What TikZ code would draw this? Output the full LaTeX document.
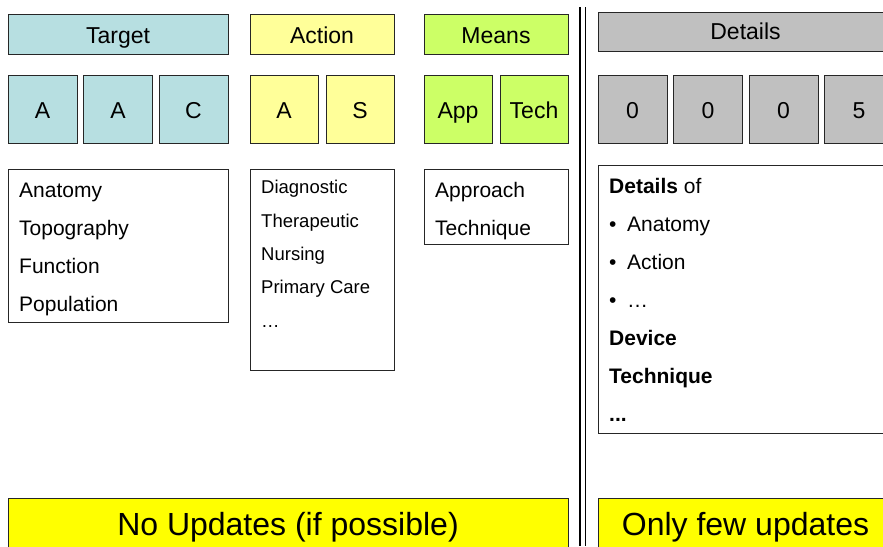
\documentclass[tikz,border=0pt]{standalone}
\usepackage{fontspec}
\setmainfont{Liberation Sans}
\definecolor{tgt}{HTML}{B7DFE1}
\definecolor{act}{HTML}{FFFF99}
\definecolor{mns}{HTML}{CCFF66}
\definecolor{det}{HTML}{C0C0C0}
\definecolor{upd}{HTML}{FFFF00}
\definecolor{edge}{HTML}{262626}
\tikzset{
  bx/.style={draw=edge, line width=1pt, inner sep=0pt, outer sep=0pt, anchor=north west, text=black},
  hd/.style={bx, minimum height=40pt, text height=18pt, text depth=0pt, font=\fontsize{23}{27}\selectfont},
  sq/.style={bx, minimum width=69pt, minimum height=68pt, text height=18pt, text depth=0pt, font=\fontsize{23}{27}\selectfont},
  lb/.style={bx, fill=white},
  big/.style={anchor=base west, inner sep=0pt, font=\fontsize{21}{25}\selectfont},
  sml/.style={anchor=base west, inner sep=0pt, font=\fontsize{18.5}{22}\selectfont},
  bot/.style={bx, fill=upd, minimum height=60pt, text height=14pt, text depth=0pt, font=\fontsize{32}{36}\selectfont},
  sep/.style={line width=1.7pt, draw=black}
}
\begin{document}
\begin{tikzpicture}[x=1pt, y=-1pt]
\useasboundingbox (0,0) rectangle (883,546);
\clip (0,0) rectangle (883,546);
\fill[white] (0,0) rectangle (883,546);

% headers
\node[hd, fill=tgt, minimum width=220pt] (target) at (8,14) {Target};
\node[hd, fill=act, minimum width=144pt] (action) at (250,14) {Action};
\node[hd, fill=mns, minimum width=144pt] (means) at (424,14) {Means};
\node[hd, fill=det, minimum width=295pt, minimum height=39pt, text height=15pt] (details) at (598,12) {Details};

% code boxes
\node[sq, fill=tgt] (t1) at (8,75) {A};
\node[sq, fill=tgt] (t2) at (83.5,75) {A};
\node[sq, fill=tgt] (t3) at (159,75) {C};
\node[sq, fill=act, minimum width=68pt] (a1) at (250,75) {A};
\node[sq, fill=act, minimum width=68pt] (a2) at (326,75) {S};
\node[sq, fill=mns, minimum width=68pt] (m1) at (424,75) {App};
\node[sq, fill=mns, minimum width=68pt] (m2) at (500,75) {Tech};
\node[sq, fill=det] (d1) at (598,75) {0};
\node[sq, fill=det] (d2) at (673.5,75) {0};
\node[sq, fill=det] (d3) at (749,75) {0};
\node[sq, fill=det] (d4) at (824.5,75) {5};

% list boxes
\node[lb, minimum width=220pt, minimum height=153pt] (tlist) at (8,169) {};
\node[lb, minimum width=144pt, minimum height=201pt] (alist) at (250,169) {};
\node[lb, minimum width=144pt, minimum height=75pt] (mlist) at (424,169) {};
\node[lb, minimum width=295pt, minimum height=268pt] (dlist) at (598,165) {};

% target list
\node[big] (tl1) at (19,197) {Anatomy};
\node[big] (tl2) at (19,235) {Topography};
\node[big] (tl3) at (19,273) {Function};
\node[big] (tl4) at (19,311) {Population};

% action list
\node[sml] (al1) at (261,193) {Diagnostic};
\node[sml] (al2) at (261,227) {Therapeutic};
\node[sml] (al3) at (261,260) {Nursing};
\node[sml] (al4) at (261,293) {Primary Care};
\node[sml] (al5) at (261,327) {…};

% means list
\node[big] (ml1) at (435,197) {Approach};
\node[big] (ml2) at (435,235) {Technique};

% details list
\node[big] (dl1) at (609,193) {\textbf{Details} of};
\node[big] (dl2) at (609,231) {\makebox[18pt][l]{•}Anatomy};
\node[big] (dl3) at (609,269) {\makebox[18pt][l]{•}Action};
\node[big] (dl4) at (609,307) {\makebox[18pt][l]{•}…};
\node[big] (dl5) at (609,345) {\textbf{Device}};
\node[big] (dl6) at (609,383) {\textbf{Technique}};
\node[big] (dl7) at (609,421) {\textbf{...}};

% bottom boxes
\node[bot, minimum width=560pt] (noupd) at (8,498) {No Updates (if possible)};
\node[bot, minimum width=295pt] (fewupd) at (598,498) {Only few updates};

% double separator
\draw[sep] (580,7) -- (580,546);
\draw[sep] (585.5,7) -- (585.5,546);
\end{tikzpicture}
\end{document}
